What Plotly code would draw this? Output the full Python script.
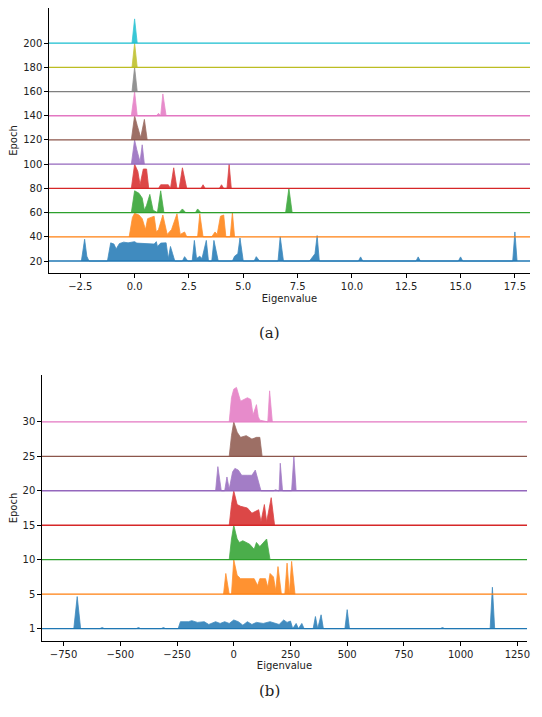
import plotly.graph_objects as go

colors = ["#1f77b4", "#ff7f0e", "#2ca02c", "#d62728", "#9467bd",
          "#8c564b", "#e377c2", "#7f7f7f", "#bcbd22", "#17becf"]

# ---- (a) ridges: epochs and (eigenvalue, relative height) vertices ----
epochs_a = [20, 40, 60, 80, 100, 120, 140, 160, 180, 200]
ridge_a = {
    20: [(-2.45,0),(-2.3,.9),(-2.2,.2),(-2.1,0),(-1.25,0),(-1.1,.75),(-0.95,.7),(-0.85,.5),(-0.7,.72),(-0.5,.78),(-0.3,.75),(0,.8),(0.1,.74),(0.5,.73),(0.9,.7),(1.0,.8),(1.05,.6),(1.2,.74),(1.45,.75),(1.55,.1),(1.65,.6),(1.75,.3),(1.85,0),(2.2,0),(2.3,.18),(2.45,0),(2.65,0),(2.75,.85),(2.85,.1),(3.0,.2),(3.1,.1),(3.3,.85),(3.4,0),(3.55,0),(3.65,.85),(3.85,0),(4.5,0),(4.6,.2),(4.75,.3),(4.85,.95),(5.0,0),(5.5,0),(5.6,.18),(5.75,0),(6.6,0),(6.7,1.0),(6.85,0),(8.05,0),(8.2,.2),(8.3,.3),(8.4,1.05),(8.5,0),(10.3,0),(10.4,.17),(10.5,0),(12.95,0),(13.05,.17),(13.15,0),(14.9,0),(15.0,.17),(15.1,0),(17.4,0),(17.5,1.2),(17.6,0)],
    40: [(-0.25,0),(-0.1,.8),(0,.97),(0.2,.9),(0.35,.75),(0.5,.3),(0.6,.75),(0.8,.8),(0.9,.85),(1.0,.2),(1.1,.3),(1.3,.9),(1.5,.1),(1.7,.3),(1.95,.95),(2.1,.1),(2.3,.2),(2.4,0),(2.9,0),(3.0,.95),(3.15,0),(3.55,0),(3.7,.2),(3.8,.1),(3.95,.85),(4.1,.9),(4.2,0),(4.4,0),(4.5,1.0),(4.6,0)],
    60: [(-0.15,0),(-0.05,.6),(0,.9),(0.2,.8),(0.35,.6),(0.45,.1),(0.55,.3),(0.7,.75),(0.85,.1),(1.05,0),(1.2,.9),(1.35,0),(2.05,0),(2.2,.15),(2.35,0),(2.8,0),(2.9,.15),(3.05,0),(6.95,0),(7.1,1.0),(7.25,0)],
    80: [(-0.15,0),(-0.05,.6),(0,1.0),(0.15,.7),(0.25,.15),(0.4,.8),(0.55,.8),(0.65,0),(1.1,0),(1.2,.15),(1.55,.15),(1.65,0),(1.8,.85),(1.95,0),(2.05,0),(2.2,.85),(2.4,0),(3.05,0),(3.15,.15),(3.25,0),(3.9,0),(4.0,.15),(4.1,0),(4.25,0),(4.35,1.0),(4.45,0)],
    100: [(-0.15,0),(0,1.0),(0.1,.6),(0.25,.1),(0.35,.8),(0.45,0)],
    120: [(-0.15,0),(0,1.0),(0.12,.6),(0.28,.1),(0.45,.85),(0.58,0)],
    140: [(-0.15,0),(0,1.0),(0.12,0),(1.0,0),(1.1,.1),(1.2,0),(1.3,.9),(1.45,0)],
    160: [(-0.12,0),(0,1.0),(0.12,0)],
    180: [(-0.12,0),(0,1.0),(0.12,0)],
    200: [(-0.12,0),(0,1.0),(0.12,0)],
}

# ---- (b) ridges ----
epochs_b = [1, 5, 10, 15, 20, 25, 30]
ridge_b = {
    1: [(-705,0),(-690,.93),(-675,0),(-590,0),(-580,.03),(-570,0),(-430,0),(-420,.03),(-410,0),(-320,0),(-310,.03),(-300,0),(-245,0),(-235,.2),(-200,.2),(-185,.23),(-160,.18),(-130,.2),(-110,.12),(-80,.2),(-60,.15),(-40,.2),(-20,.15),(0,.25),(20,.2),(40,.1),(60,.2),(80,.12),(100,.18),(130,.15),(160,.2),(200,.12),(220,.25),(235,.18),(250,.22),(260,0),(275,.15),(285,0),(300,.15),(310,0),(350,0),(360,.35),(370,0),(385,.4),(395,0),(490,0),(500,.55),(510,0),(910,0),(920,.03),(930,0),(1130,0),(1140,1.2),(1150,0)],
    5: [(-45,0),(-35,.6),(-20,0),(-10,0),(0,1.0),(15,.55),(30,.45),(90,.45),(105,.25),(115,.45),(140,.45),(150,.2),(160,.6),(175,.5),(185,.1),(195,.8),(210,0),(225,0),(235,.9),(245,0),(255,.95),(270,0)],
    10: [(-20,0),(-10,.6),(0,1.0),(15,.6),(25,.5),(40,.55),(70,.45),(90,.3),(100,.5),(115,.38),(145,.6),(160,0)],
    15: [(-20,0),(-10,.6),(0,1.0),(15,.6),(30,.55),(60,.5),(80,.35),(110,.45),(120,.1),(135,.6),(145,.1),(165,.8),(180,0)],
    20: [(-80,0),(-70,.7),(-55,0),(-40,0),(-30,.4),(-20,.05),(-5,.55),(5,.65),(20,.6),(35,.45),(60,.45),(80,.45),(95,.6),(110,.2),(120,0),(175,0),(185,.03),(195,0),(200,0),(205,.8),(215,0),(255,0),(265,1.0),(275,0)],
    25: [(-20,0),(-10,.6),(0,1.0),(15,.7),(30,.55),(55,.6),(80,.5),(100,.55),(115,.55),(125,0)],
    30: [(-20,0),(-10,.7),(0,.95),(12,1.0),(30,.6),(45,.65),(60,.7),(75,.65),(85,.2),(100,.5),(108,.15),(115,.05),(140,0),(150,0),(158,.9),(170,0)],
}

fig = go.Figure()

def add_ridges(epochs, ridges, xr, spacing, xa, ya, pos):
    for i, ep in enumerate(epochs):
        c = colors[i % 10]
        base = pos(i, ep)
        pts = ridges[ep]
        xs = [p[0] for p in pts]
        ys = [base + p[1] * spacing for p in pts]
        fig.add_trace(go.Scatter(x=[xs[0]] + xs + [xs[-1]], y=[base] + ys + [base],
                                 fill="toself", fillcolor=c, opacity=0.85, mode="lines",
                                 line=dict(color=c, width=0.8), xaxis=xa, yaxis=ya,
                                 showlegend=False, hoverinfo="skip"))
        fig.add_trace(go.Scatter(x=[xr[0], xr[1]], y=[base, base], mode="lines",
                                 line=dict(color=c, width=1.3), xaxis=xa, yaxis=ya,
                                 showlegend=False, hoverinfo="skip"))

add_ridges(epochs_a, ridge_a, (-3.95, 18.2), 20, "x", "y", lambda i, ep: ep)
add_ridges(epochs_b, ridge_b, (-846, 1293), 1, "x2", "y2", lambda i, ep: i)

font = dict(family="DejaVu Sans", size=10, color="#222")
common = dict(showgrid=False, zeroline=False, showline=True, linecolor="black",
              linewidth=1, ticks="outside", ticklen=3.5, tickcolor="black", tickfont=font)

W, H, OFF = 542, 717, 8
px = lambda v: (v - OFF) / W
py = lambda v: 1 - (v - OFF) / H

fig.update_layout(
    width=W, height=H, margin=dict(l=0, r=0, t=0, b=0),
    paper_bgcolor="white", plot_bgcolor="white", showlegend=False,
    xaxis=dict(domain=[px(49), px(533)], range=[-3.95, 18.2], anchor="y",
               tickvals=[-2.5, 0, 2.5, 5, 7.5, 10, 12.5, 15, 17.5],
               ticktext=["−2.5", "0.0", "2.5", "5.0", "7.5", "10.0", "12.5", "15.0", "17.5"],
               title=dict(text="Eigenvalue", font=font, standoff=4), **common),
    yaxis=dict(domain=[py(273), py(8)], range=[10.1, 229], anchor="x",
               tickvals=epochs_a, title=dict(text="Epoch", font=font, standoff=6), **common),
    xaxis2=dict(domain=[px(42), px(530)], range=[-846, 1293], anchor="y2",
                tickvals=[-750, -500, -250, 0, 250, 500, 750, 1000, 1250],
                ticktext=["−750", "−500", "−250", "0", "250", "500", "750", "1000", "1250"],
                title=dict(text="Eigenvalue", font=font, standoff=2), **common),
    yaxis2=dict(domain=[py(641), py(375)], range=[-0.36, 7.36], anchor="x2",
                tickvals=list(range(len(epochs_b))), ticktext=[str(e) for e in epochs_b],
                title=dict(text="Epoch", font=font, standoff=6), **common),
    annotations=[
        dict(text="(a)", x=px(271), y=py(333), xref="paper", yref="paper", showarrow=False,
             font=dict(family="DejaVu Serif", size=15, color="#222")),
        dict(text="(b)", x=px(271), y=py(702), xref="paper", yref="paper", showarrow=False,
             font=dict(family="DejaVu Serif", size=15, color="#222")),
    ],
)

fig.write_html("out.html")
